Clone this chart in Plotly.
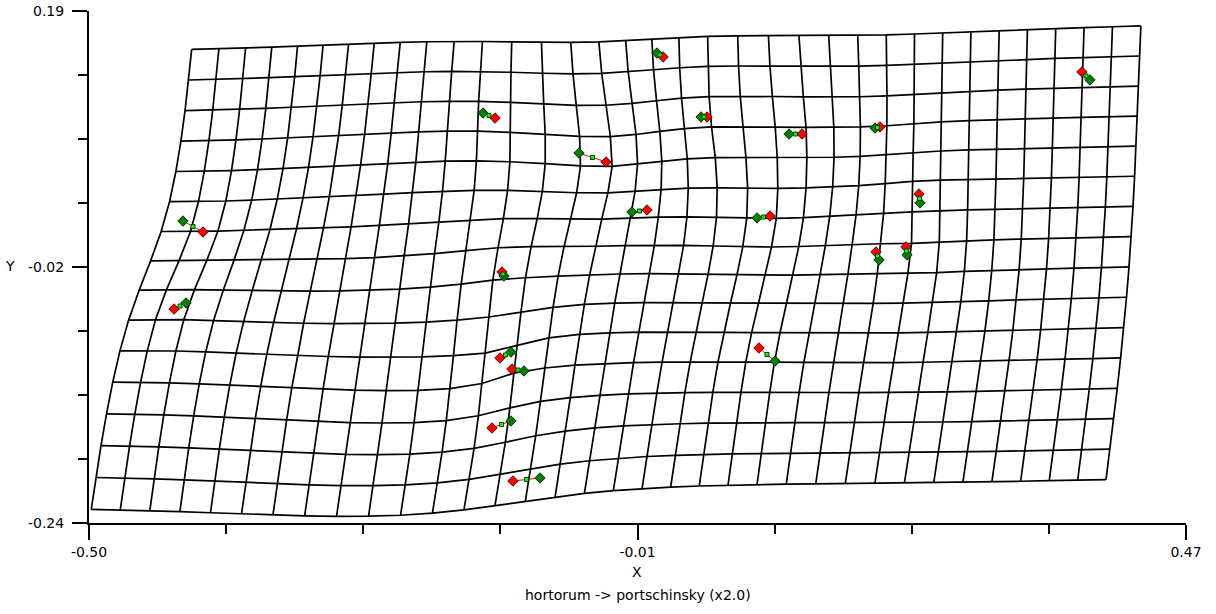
import numpy as np
import plotly.graph_objects as go

# Landmarks (data units)
# reference configuration (hortorum) - green diamonds
ref_x = [-0.4169, -0.4142, -0.1330, -0.1269, -0.1154, -0.1269, -0.1012, 0.0022, -0.0667, -0.0199,
         -0.1516, 0.0412, 0.1190, 0.1950, 0.3851, 0.2348, 0.1986, 0.2233, 0.0907, 0.1066]
ref_y = [0.0136, -0.0552, -0.0326, -0.0964, -0.1123, -0.1543, -0.2022, 0.1547, 0.0707, 0.0212,
         0.1043, 0.1010, 0.0867, 0.0917, 0.1321, 0.0288, -0.0191, -0.0149, 0.0162, -0.1039]
# target configuration (portschinsky, exaggerated x2.0) - red diamonds
tgt_x = [-0.3992, -0.4248, -0.1348, -0.1366, -0.1260, -0.1437, -0.1251, 0.0076, -0.0428, -0.0066,
         -0.1410, 0.0465, 0.1305, 0.1994, 0.3780, 0.2339, 0.1959, 0.2224, 0.1022, 0.0924]
tgt_y = [0.0044, -0.0603, -0.0292, -0.1014, -0.1107, -0.1602, -0.2047, 0.1514, 0.0632, 0.0229,
         0.1001, 0.1010, 0.0867, 0.0926, 0.1388, 0.0363, -0.0124, -0.0082, 0.0178, -0.0930]
exaggeration = 2.0

# Undeformed reference grid
grid_x_range = [-0.4549, 0.4382]
grid_y_range = [-0.2207, 0.1707]
grid_cols = 34
grid_rows = 15

# Axis ticks
x_range = [-0.50, 0.47]
y_range = [-0.24, 0.19]
x_tick_vals = [-0.50, -0.015, 0.47]
x_tick_text = ["-0.50", "-0.01", "0.47"]
y_tick_vals = [-0.24, -0.025, 0.19]
y_tick_text = ["-0.24", "-0.02", "0.19"]
n_minor = 8
subtitle = "hortorum -> portschinsky (x2.0)"

src = np.column_stack([ref_x, ref_y])
dst = np.column_stack([tgt_x, tgt_y])
mid = src + (dst - src) / exaggeration


def U(r2):
    out = np.zeros_like(r2)
    m = r2 > 0
    out[m] = r2[m] * np.log(r2[m])
    return out


n = len(src)
d2 = ((src[:, None, :] - src[None, :, :]) ** 2).sum(-1)
K = U(d2)
P = np.column_stack([np.ones(n), src])
L = np.zeros((n + 3, n + 3))
L[:n, :n] = K
L[:n, n:] = P
L[n:, :n] = P.T
Y = np.vstack([dst, np.zeros((3, 2))])
W = np.linalg.solve(L, Y)


def warp(pts):
    d2p = ((pts[:, None, :] - src[None, :, :]) ** 2).sum(-1)
    return U(d2p) @ W[:n] + np.column_stack([np.ones(len(pts)), pts]) @ W[n:]


gx = np.linspace(grid_x_range[0], grid_x_range[1], grid_cols + 1)
gy = np.linspace(grid_y_range[0], grid_y_range[1], grid_rows + 1)

lx, ly = [], []
for yv in gy:
    pts = warp(np.column_stack([gx, np.full_like(gx, yv)]))
    lx += list(pts[:, 0]) + [None]
    ly += list(pts[:, 1]) + [None]
for xv in gx:
    pts = warp(np.column_stack([np.full_like(gy, xv), gy]))
    lx += list(pts[:, 0]) + [None]
    ly += list(pts[:, 1]) + [None]

fig = go.Figure()
fig.add_trace(go.Scatter(x=lx, y=ly, mode="lines", line=dict(color="black", width=1.7),
                         hoverinfo="skip", showlegend=False))

vx, vy = [], []
for i in range(n):
    vx += [src[i, 0], dst[i, 0], None]
    vy += [src[i, 1], dst[i, 1], None]
fig.add_trace(go.Scatter(x=vx, y=vy, mode="lines", line=dict(color="red", width=1),
                         hoverinfo="skip", showlegend=False))
fig.add_trace(go.Scatter(x=src[:, 0], y=src[:, 1], mode="markers",
                         marker=dict(symbol="diamond", size=8, color="#008000",
                                     line=dict(color="#003000", width=1)), showlegend=False))
fig.add_trace(go.Scatter(x=dst[:, 0], y=dst[:, 1], mode="markers",
                         marker=dict(symbol="diamond", size=8, color="#ff0000",
                                     line=dict(color="#600000", width=1)), showlegend=False))
fig.add_trace(go.Scatter(x=mid[:, 0], y=mid[:, 1], mode="markers",
                         marker=dict(symbol="square", size=4, color="#00ff00",
                                     line=dict(color="#004000", width=1)), showlegend=False))

font = dict(family="DejaVu Sans, Verdana, sans-serif", size=14, color="black")
x_minor = list(np.linspace(x_range[0], x_range[1], n_minor + 1))
y_minor = list(np.linspace(y_range[0], y_range[1], n_minor + 1))

ML, MR, MT, MB = 89, 30, 11, 91
fig.update_layout(
    width=1216, height=614, autosize=False,
    margin=dict(l=ML, r=MR, t=MT, b=MB, autoexpand=False),
    plot_bgcolor="white", paper_bgcolor="white",
    font=font, showlegend=False,
    xaxis=dict(range=x_range, showgrid=False, zeroline=False, showline=True, automargin=False,
               linecolor="black", linewidth=2, ticks="outside", ticklen=15, tickwidth=2,
               tickcolor="black", tickmode="array", tickvals=x_tick_vals, ticktext=x_tick_text,
               minor=dict(ticks="outside", ticklen=9, tickwidth=2, tickcolor="black",
                          tickvals=x_minor, showgrid=False),
               tickfont=font),
    yaxis=dict(range=y_range, showgrid=False, zeroline=False, showline=True, automargin=False,
               linecolor="black", linewidth=2, ticks="outside", ticklen=15, tickwidth=2,
               tickcolor="black", tickmode="array", tickvals=y_tick_vals, ticktext=y_tick_text,
               ticklabelstandoff=5,
               minor=dict(ticks="outside", ticklen=9, tickwidth=2, tickcolor="black",
                          tickvals=y_minor, showgrid=False),
               tickfont=font),
)

pw, ph = 1216 - ML - MR, 614 - MT - MB


def px_to_paper(px, py):
    return (px - ML) / pw, (614 - MB - py) / ph


for text, (px, py) in [("Y", (10, 266)), ("X", (637, 572)), (subtitle, (638, 595))]:
    ax_, ay_ = px_to_paper(px, py)
    fig.add_annotation(text=text, x=ax_, y=ay_, xref="paper", yref="paper",
                       xanchor="center", yanchor="middle", showarrow=False, font=font)

fig.write_html("out.html", config={"displayModeBar": False},
               post_script="document.body.style.margin='0px';")
